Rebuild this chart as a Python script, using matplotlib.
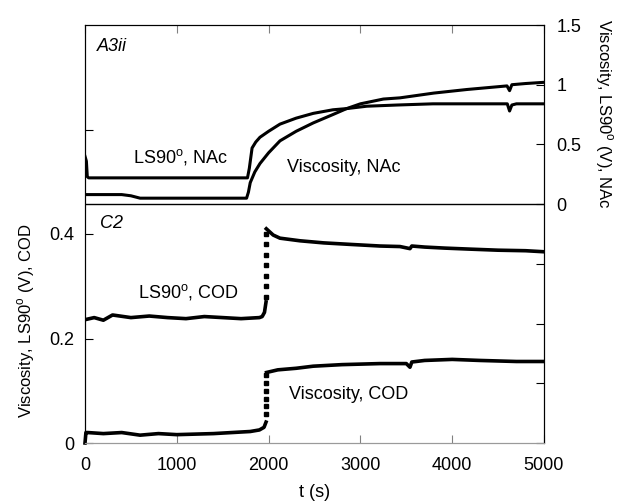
import matplotlib
matplotlib.use("Agg")
import matplotlib.pyplot as plt

plt.rcParams['font.family'] = ['Liberation Sans', 'DejaVu Sans']
plt.rcParams['font.size'] = 13

# top panel (right axis): NAc
t_ls_nac = [0, 15, 25, 40, 400, 800, 1200, 1600, 1770, 1790, 1820, 1860, 1906, 2000, 2124,
            2300, 2486, 2700, 2850, 3070, 3400, 3790, 4200, 4600, 4625, 4650, 4700, 5000]
ls_nac = [0.40, 0.36, 0.23, 0.22, 0.22, 0.22, 0.22, 0.22, 0.22, 0.30, 0.47, 0.52, 0.56, 0.61, 0.67,
          0.72, 0.76, 0.79, 0.80, 0.82, 0.83, 0.84, 0.84, 0.84, 0.78, 0.83, 0.84, 0.84]

t_visc_nac = [0, 400, 500, 600, 700, 1000, 1400, 1760, 1780, 1800, 1850, 1906, 2000, 2124,
              2300, 2486, 2700, 2850, 3000, 3250, 3431, 3800, 4161, 4597, 4625, 4650, 4800, 5000]
visc_nac = [0.08, 0.08, 0.07, 0.05, 0.05, 0.05, 0.05, 0.05, 0.10, 0.18, 0.27, 0.34, 0.43, 0.53,
            0.61, 0.68, 0.75, 0.80, 0.84, 0.88, 0.89, 0.93, 0.96, 0.99, 0.95, 1.00, 1.01, 1.02]

# bottom panel (left axis): COD
t_ls_cod = [0, 100, 200, 300, 500, 700, 900, 1100, 1300, 1500, 1700, 1900, 1930, 1955, 1972]
ls_cod = [0.236, 0.240, 0.235, 0.245, 0.240, 0.243, 0.240, 0.238, 0.242, 0.240, 0.238, 0.240,
          0.242, 0.25, 0.27]
t_ls_cod2 = [1975, 2050, 2124, 2342, 2600, 2900, 3214, 3431, 3540, 3560, 3700, 3920,
             4200, 4500, 4800, 5000]
ls_cod2 = [0.41, 0.398, 0.392, 0.387, 0.383, 0.380, 0.377, 0.376, 0.372, 0.377, 0.375, 0.373,
           0.371, 0.369, 0.368, 0.366]
ls_cod_jump = [0.28, 0.30, 0.32, 0.34, 0.36, 0.38, 0.40]

t_visc_cod = [0, 10, 30, 200, 400, 600, 800, 1000, 1200, 1400, 1600, 1800, 1900, 1950, 1972]
visc_cod = [0.0, 0.02, 0.02, 0.018, 0.02, 0.015, 0.018, 0.016, 0.017, 0.018, 0.020, 0.022,
            0.025, 0.03, 0.04]
t_visc_cod2 = [1978, 2100, 2300, 2486, 2800, 3214, 3500, 3540, 3560, 3700, 4000, 4300, 4700, 5000]
visc_cod2 = [0.135, 0.140, 0.143, 0.147, 0.150, 0.152, 0.152, 0.145, 0.155, 0.158, 0.160,
             0.158, 0.156, 0.156]
visc_cod_jump = [0.055, 0.07, 0.085, 0.10, 0.115, 0.13]
t_jump = 1975

fig = plt.figure(figsize=(6.19, 5.01), dpi=100)
ax = fig.add_axes([85 / 619, 1 - 443 / 501, 459 / 619, 418 / 501])
ax2 = ax.twinx()

ax.set_xlim(0, 5000)
ax.set_ylim(0, 0.8)
ax2.set_ylim(-2, 1.5)

lw = 2.6
ax.plot(t_ls_cod, ls_cod, color='black', lw=lw)
ax.plot(t_ls_cod2, ls_cod2, color='black', lw=lw)
ax.plot([t_jump] * len(ls_cod_jump), ls_cod_jump, 's', color='black', ms=3)
ax.plot(t_visc_cod, visc_cod, color='black', lw=lw, clip_on=False)
ax.plot(t_visc_cod2, visc_cod2, color='black', lw=lw)
ax.plot([t_jump] * len(visc_cod_jump), visc_cod_jump, 's', color='black', ms=3)

ax2.plot(t_ls_nac, ls_nac, color='black', lw=2.2)
ax2.plot(t_visc_nac, visc_nac, color='black', lw=2.2)
ax2.axhline(0, color='black', lw=1)

for a in (ax, ax2):
    a.spines['bottom'].set_color('#9a9a9a')

ax.set_xticks([0, 1000, 2000, 3000, 4000, 5000])
ax.set_yticks([0, 0.2, 0.4, 0.6])
ax.set_yticklabels(['0', '0.2', '0.4', ''])
ax2.set_yticks([-2, -1.5, -1, -0.5, 0, 0.5, 1, 1.5])
ax2.set_yticklabels(['', '', '', '', '0', '0.5', '1', '1.5'])
ax.tick_params(axis='x', direction='in', length=6, top=True, labelsize=13, pad=10, color='#808080')
ax.tick_params(axis='y', direction='in', length=6, labelsize=13, pad=8)
ax2.tick_params(direction='in', length=6, labelsize=13, pad=9)

ax.set_xlabel('t (s)', fontsize=13, labelpad=7)
ax.set_ylabel('Viscosity, LS90$^\\mathregular{o}$ (V), COD', fontsize=12)
ax.yaxis.set_label_coords(-0.105, 0.294)
ax2.set_ylabel('Viscosity, LS90$^\\mathregular{o}$ (V), NAc', fontsize=12, rotation=270)
ax2.yaxis.set_label_coords(1.153, 0.787)

ax.text(0.026, 0.969, 'A3ii', transform=ax.transAxes, style='italic', fontsize=13, va='top')
ax.text(0.033, 0.545, 'C2', transform=ax.transAxes, style='italic', fontsize=13, va='top')
ax.text(0.105, 0.684, 'LS90$^\\mathregular{o}$, NAc', transform=ax.transAxes, fontsize=13, va='center')
ax.text(0.44, 0.66, 'Viscosity, NAc', transform=ax.transAxes, fontsize=13, va='center')
ax.text(0.115, 0.361, 'LS90$^\\mathregular{o}$, COD', transform=ax.transAxes, fontsize=13, va='center')
ax.text(0.444, 0.115, 'Viscosity, COD', transform=ax.transAxes, fontsize=13, va='center')

fig.savefig('out.png', dpi=100)
